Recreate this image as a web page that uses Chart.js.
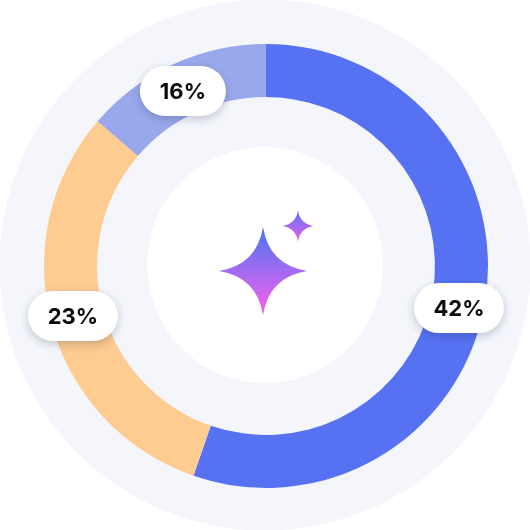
<!DOCTYPE html>
<html>
<head>
<meta charset="utf-8">
<style>html,body{margin:0;padding:0;background:#fff}canvas{display:block}</style>
<script src="https://cdn.jsdelivr.net/npm/chart.js@4"></script>
</head>
<body>
<canvas id="c" width="530" height="530" style="width:530px;height:530px"></canvas>
<script>
const sliceNames = ['A', 'B', 'C'];
const sliceValues = [55.3, 31.0, 13.7];
const sliceColors = ['#5672f3', '#fecb90', '#99a8ec'];
const pillLabels = ['42%', '23%', '16%'];
const pillWidths = [90, 90, 86];
const pillAngles = [102.3, 255.5, 334.6];
const pillRadii = [197.5, 199.4, 193.7];

function star(ctx, cx, cy, rx, ry, grad) {
  ctx.beginPath();
  ctx.moveTo(cx, cy - ry);
  ctx.quadraticCurveTo(cx + rx * 0.14, cy - ry * 0.14, cx + rx, cy);
  ctx.quadraticCurveTo(cx + rx * 0.14, cy + ry * 0.14, cx, cy + ry);
  ctx.quadraticCurveTo(cx - rx * 0.14, cy + ry * 0.14, cx - rx, cy);
  ctx.quadraticCurveTo(cx - rx * 0.14, cy - ry * 0.14, cx, cy - ry);
  ctx.closePath();
  const g = ctx.createLinearGradient(0, cy - ry, 0, cy + ry);
  g.addColorStop(0.1, grad[0]);
  g.addColorStop(0.85, grad[1]);
  ctx.fillStyle = g;
  ctx.fill();
}

const backdrop = {
  id: 'backdrop',
  beforeDatasetsDraw(chart) {
    const ctx = chart.ctx;
    ctx.save();
    ctx.fillStyle = '#f4f6fc';
    ctx.beginPath();
    ctx.arc(265, 265, 265.5, 0, Math.PI * 2);
    ctx.fill();
    ctx.fillStyle = '#ffffff';
    ctx.beginPath();
    ctx.arc(265, 265, 118, 0, Math.PI * 2);
    ctx.fill();
    ctx.restore();
  }
};

const overlay = {
  id: 'overlay',
  afterDatasetsDraw(chart) {
    const ctx = chart.ctx;
    const arcs = chart.getDatasetMeta(0).data;
    const cx = arcs[0].x, cy = arcs[0].y;
    ctx.save();
    star(ctx, 263, 271, 44, 44, ['#5a72f1', '#e263ee']);
    star(ctx, 298, 226, 15.5, 15.5, ['#6a70ef', '#d264ee']);
    pillLabels.forEach((label, i) => {
      const rad = (pillAngles[i] - 90) * Math.PI / 180;
      const px = cx + Math.cos(rad) * pillRadii[i];
      const py = cy + Math.sin(rad) * pillRadii[i];
      const w = pillWidths[i], h = 50;
      ctx.save();
      ctx.shadowColor = 'rgba(30,35,60,0.24)';
      ctx.shadowBlur = 10;
      ctx.shadowOffsetY = 3;
      ctx.fillStyle = '#fff';
      ctx.beginPath();
      ctx.roundRect(px - w / 2, py - h / 2, w, h, 25);
      ctx.fill();
      ctx.restore();
      ctx.fillStyle = '#0a0a0f';
      ctx.font = '700 22px Inter';
      ctx.textAlign = 'center';
      ctx.textBaseline = 'middle';
      ctx.fillText(label, px, py + 1);
    });
    ctx.restore();
  }
};

new Chart(document.getElementById('c'), {
  type: 'doughnut',
  data: {
    labels: sliceNames,
    datasets: [{ data: sliceValues, backgroundColor: sliceColors, borderWidth: 0, hoverOffset: 0 }]
  },
  options: {
    responsive: false,
    animation: false,
    cutout: '76.1%',
    radius: 222,
    layout: { padding: { left: 2, top: 2 } },
    plugins: { legend: { display: false }, tooltip: { enabled: false } }
  },
  plugins: [backdrop, overlay]
});
</script>
</body>
</html>
